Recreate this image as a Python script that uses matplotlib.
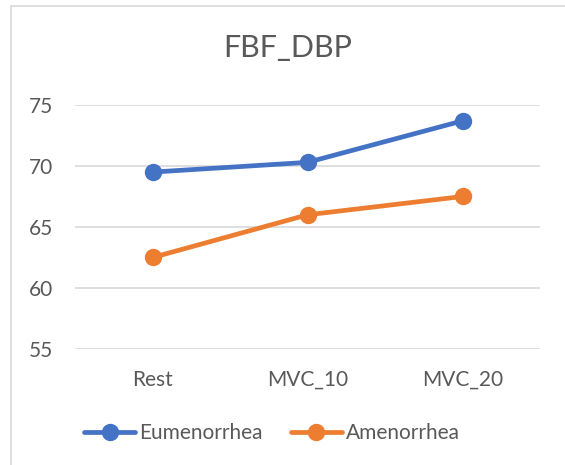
import matplotlib.pyplot as plt
from matplotlib.patches import Rectangle

# data
categories = ["Rest", "MVC_10", "MVC_20"]
eumenorrhea = [69.5, 70.3, 73.7]
amenorrhea = [62.5, 66.0, 67.5]
y_ticks = [55, 60, 65, 70, 75]

plt.rcParams['font.family'] = ['Lato', 'DejaVu Sans']
text_col = "#595959"

fig = plt.figure(figsize=(5.65, 4.65), dpi=100)
ax = fig.add_axes([75 / 565, 1 - 349 / 465, 465 / 565, 244 / 465])

x = range(len(categories))
ax.plot(x, eumenorrhea, color="#4472C4", lw=3.4, marker="o", ms=11.5, label="Eumenorrhea", solid_capstyle="round")
ax.plot(x, amenorrhea, color="#ED7D31", lw=3.4, marker="o", ms=11.5, label="Amenorrhea", solid_capstyle="round")

ax.set_xlim(-0.5, 2.5)
ax.set_ylim(55, 75)
ax.set_yticks(y_ticks)
ax.set_xticks(list(x))
ax.set_xticklabels(categories)
ax.grid(axis="y", color="#D9D9D9", lw=1.2)
ax.set_axisbelow(True)
for s in ax.spines.values():
    s.set_visible(False)
ax.tick_params(length=0, labelsize=15, colors=text_col)
ax.tick_params(axis="y", pad=16)
ax.tick_params(axis="x", pad=15)

fig.text(288 / 565, 1 - 48 / 465, "FBF_DBP", ha="center", va="center", fontsize=22, color=text_col)

leg = fig.legend(loc="center", bbox_to_anchor=(272 / 565, 1 - 433 / 465), ncol=2, frameon=False,
                 fontsize=15, handlelength=2.45, handletextpad=0.2, columnspacing=1.35)
for t in leg.get_texts():
    t.set_color(text_col)

# chart border (cropped at right/bottom)
fig.patches.append(Rectangle((11 / 565, -0.1), 1.2, 1 - 6 / 465 + 0.1, transform=fig.transFigure,
                             fill=False, edgecolor="#D9D9D9", lw=1.2))

fig.savefig("out.png", dpi=100)
